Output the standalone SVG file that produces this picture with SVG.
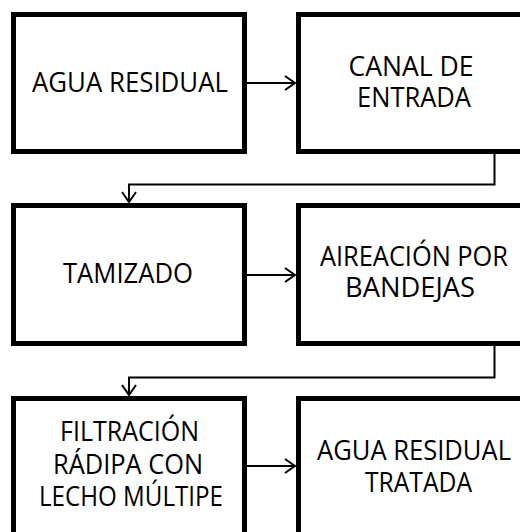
<svg xmlns="http://www.w3.org/2000/svg" width="520" height="532" viewBox="0 0 520 532">
<style>
.box{fill:#fff;stroke:#000;stroke-width:5}
.lbl{font-family:"Open Sans","Liberation Sans",sans-serif;font-size:27px;fill:#000;text-anchor:middle}
.con{fill:none;stroke:#000;stroke-width:2}
</style>
<defs>
<marker id="arr" markerUnits="userSpaceOnUse" markerWidth="20" markerHeight="20" viewBox="-12 -10 14 20" refX="0" refY="0" orient="auto">
<path d="M-10,-7 L0,0 L-10,7" fill="none" stroke="#000" stroke-width="2"/>
</marker>
</defs>
<rect width="520" height="532" fill="#fff"/>
<g id="connectors">
<line class="con" x1="247" y1="83" x2="295" y2="83" marker-end="url(#arr)"/>
<polyline class="con" points="494.5,154 494.5,184.5 129,184.5 129,202" marker-end="url(#arr)"/>
<line class="con" x1="247" y1="275" x2="295" y2="275" marker-end="url(#arr)"/>
<polyline class="con" points="494.5,346 494.5,377.5 129,377.5 129,395" marker-end="url(#arr)"/>
<line class="con" x1="247" y1="466" x2="295" y2="466" marker-end="url(#arr)"/>
</g>
<g id="agua-residual">
<rect class="box" x="13.5" y="14.5" width="231" height="137"/>
<text class="lbl" x="130" y="92" textLength="196" lengthAdjust="spacingAndGlyphs">AGUA RESIDUAL</text>
</g>
<g id="canal-de-entrada">
<rect class="box" x="298.5" y="14.5" width="231" height="137"/>
<text class="lbl" x="411" y="76" textLength="125" lengthAdjust="spacingAndGlyphs">CANAL DE</text>
<text class="lbl" x="414" y="107" textLength="114" lengthAdjust="spacingAndGlyphs">ENTRADA</text>
</g>
<g id="tamizado">
<rect class="box" x="13.5" y="205.5" width="231" height="138"/>
<text class="lbl" x="128" y="283" textLength="130" lengthAdjust="spacingAndGlyphs">TAMIZADO</text>
</g>
<g id="aireacion">
<rect class="box" x="298.5" y="205.5" width="231" height="138"/>
<text class="lbl" x="414" y="266" textLength="188" lengthAdjust="spacingAndGlyphs">AIREACIÓN POR</text>
<text class="lbl" x="410" y="297" textLength="130" lengthAdjust="spacingAndGlyphs">BANDEJAS</text>
</g>
<g id="filtracion">
<rect class="box" x="13.5" y="398.5" width="231" height="138"/>
<text class="lbl" x="129.5" y="441" textLength="139" lengthAdjust="spacingAndGlyphs">FILTRACIÓN</text>
<text class="lbl" x="128" y="474" textLength="150" lengthAdjust="spacingAndGlyphs">RÁDIPA CON</text>
<text class="lbl" x="131" y="506" textLength="184" lengthAdjust="spacingAndGlyphs">LECHO MÚLTIPE</text>
</g>
<g id="agua-tratada">
<rect class="box" x="298.5" y="398.5" width="231" height="138"/>
<text class="lbl" x="414" y="460" textLength="194" lengthAdjust="spacingAndGlyphs">AGUA RESIDUAL</text>
<text class="lbl" x="418.5" y="492" textLength="107" lengthAdjust="spacingAndGlyphs">TRATADA</text>
</g>
</svg>
